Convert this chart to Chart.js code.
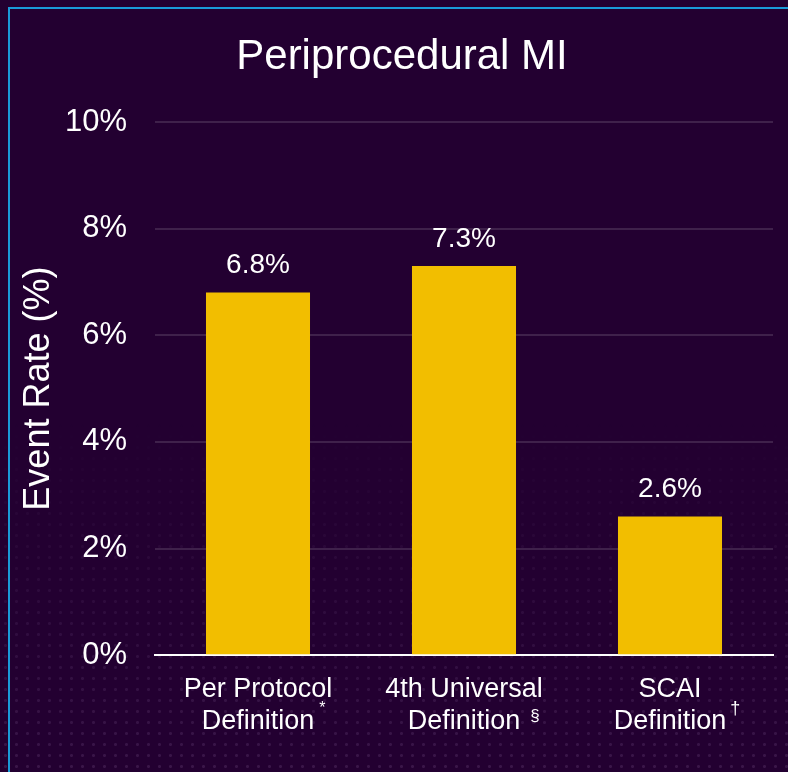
<!DOCTYPE html>
<html>
<head>
<meta charset="utf-8">
<script src="https://cdn.jsdelivr.net/npm/chart.js@4.4.0/dist/chart.umd.min.js"></script>
<style>
  html, body { margin: 0; padding: 0; background: #230031; }
  #wrap { position: relative; width: 788px; height: 772px; overflow: hidden; background: #230031; }
  #dots {
    position: absolute; left: 0; top: 420px; width: 788px; height: 352px;
    background-image: radial-gradient(circle, rgba(150, 110, 170, 0.2) 1.2px, transparent 1.8px);
    background-size: 11px 11px;
    -webkit-mask-image: linear-gradient(to bottom, transparent 0%, rgba(0,0,0,0.6) 60%, rgba(0,0,0,1) 100%);
    mask-image: linear-gradient(to bottom, transparent 0%, rgba(0,0,0,0.6) 60%, rgba(0,0,0,1) 100%);
  }
  #frame {
    position: absolute; left: 8px; top: 7px; right: -10px; bottom: -10px;
    border-top: 2px solid #1a9ad8; border-left: 2px solid #1a9ad8;
  }
  #box { position: absolute; left: 0; top: 0; width: 788px; height: 772px; }
</style>
</head>
<body>
<div id="wrap">
  <div id="dots"></div>
  <div id="frame"></div>
  <div id="box"><canvas id="chart"></canvas></div>
</div>
<script>
const chartTitle = "Periprocedural MI"
const categories = [
  ["Per Protocol", "Definition"],
  ["4th Universal", "Definition"],
  ["SCAI", "Definition"]
]
const footnoteMarks = ["*", "§", "†"]
const eventRates = [6.8, 7.3, 2.6]
const yTicks = [0, 2, 4, 6, 8, 10]

const fontFamily = "'Liberation Sans', Arial, sans-serif"

// title is centred on the slide, not on the plot area
const slideTitle = {
  id: "slideTitle",
  afterDraw(chart) {
    const ctx = chart.ctx
    ctx.save()
    ctx.fillStyle = "#ffffff"
    ctx.font = "42px " + fontFamily
    ctx.textAlign = "center"
    ctx.textBaseline = "middle"
    ctx.fillText(chartTitle, 402, 57)
    ctx.restore()
  }
}

// value labels above each bar
const barLabels = {
  id: "barLabels",
  afterDatasetsDraw(chart) {
    const ctx = chart.ctx
    const meta = chart.getDatasetMeta(0)
    ctx.save()
    ctx.fillStyle = "#ffffff"
    ctx.font = "28px " + fontFamily
    ctx.textAlign = "center"
    ctx.textBaseline = "middle"
    meta.data.forEach((bar, i) => {
      ctx.fillText(eventRates[i].toFixed(1) + "%", bar.x, bar.y - 27)
    })
    ctx.restore()
  }
}

// superscript footnote marks after "Definition"
const footnotes = {
  id: "footnotes",
  afterDraw(chart) {
    const ctx = chart.ctx
    const x = chart.scales.x
    ctx.save()
    ctx.fillStyle = "#ffffff"
    ctx.font = "27px " + fontFamily
    const half = ctx.measureText("Definition").width / 2
    const sizes = [16, 17, 18]
    const offsets = [[5, 709], [10, 716], [4, 709]]
    ctx.textAlign = "left"
    ctx.textBaseline = "middle"
    footnoteMarks.forEach((mark, i) => {
      ctx.font = sizes[i] + "px " + fontFamily
      const px = x.getPixelForTick(i) + half + offsets[i][0]
      ctx.fillText(mark, px, offsets[i][1])
    })
    ctx.restore()
  }
}

new Chart(document.getElementById("chart"), {
  type: "bar",
  data: {
    labels: categories,
    datasets: [{
      data: eventRates,
      backgroundColor: "#f2be00",
      borderWidth: 0,
      barPercentage: 0.505,
      categoryPercentage: 1
    }]
  },
  options: {
    responsive: true,
    maintainAspectRatio: false,
    animation: false,
    layout: {
      padding: { left: 0, right: 15, top: 122, bottom: 16 }
    },
    plugins: {
      legend: { display: false },
      tooltip: { enabled: false },
      title: { display: false }
    },
    scales: {
      x: {
        grid: { display: false, drawTicks: false },
        border: { display: true, color: "#ffffff", width: 2 },
        ticks: {
          color: "#ffffff",
          padding: 18,
          font: { family: fontFamily, size: 27 },
          maxRotation: 0,
          autoSkip: false
        }
      },
      y: {
        min: 0,
        max: 10,
        afterBuildTicks(scale) {
          scale.ticks = yTicks.map(v => ({ value: v }))
        },
        afterFit(scale) {
          scale.width = 155
        },
        grid: {
          color: "rgba(255, 255, 255, 0.13)",
          lineWidth: 2,
          drawTicks: false
        },
        border: { display: false },
        ticks: {
          color: "#ffffff",
          padding: 28,
          font: { family: fontFamily, size: 31 },
          callback: v => v + "%"
        },
        title: {
          display: true,
          text: "Event Rate (%)",
          color: "#ffffff",
          font: { family: fontFamily, size: 36 },
          padding: { top: 17, bottom: 4 }
        }
      }
    }
  },
  plugins: [slideTitle, barLabels, footnotes]
})
</script>
</body>
</html>
